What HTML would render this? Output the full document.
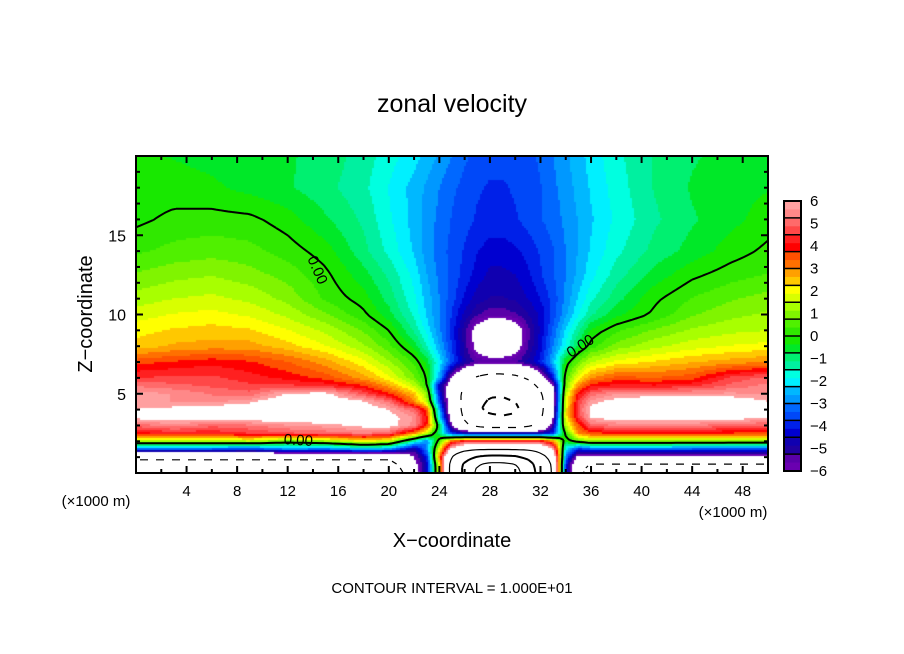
<!DOCTYPE html>
<html><head><meta charset="utf-8">
<style>
html,body{margin:0;padding:0;background:#fff;}
#wrap{position:relative;width:904px;height:654px;overflow:hidden;font-family:"Liberation Sans",sans-serif;}
#field{position:absolute;left:136px;top:156px;}
#ov{position:absolute;left:0;top:0;}
</style></head>
<body>
<div id="wrap">
<canvas id="field" width="632" height="317"></canvas>
<svg id="ov" width="904" height="654">
<g id="contours"></g>
<g id="axes"></g>
<text x="452" y="112" text-anchor="middle" font-size="25" font-family="Liberation Sans, sans-serif">zonal velocity</text>
<text x="452" y="547" text-anchor="middle" font-size="20">X−coordinate</text>
<text transform="translate(92,314) rotate(-90)" text-anchor="middle" font-size="20">Z−coordinate</text>
<text x="96" y="506" text-anchor="middle" font-size="15">(×1000 m)</text>
<text x="733" y="517" text-anchor="middle" font-size="15">(×1000 m)</text>
<text x="452" y="593" text-anchor="middle" font-size="15">CONTOUR INTERVAL = 1.000E+01</text>
<g id="cbar"></g>
<text transform="translate(313,272) rotate(66)" text-anchor="middle" font-size="15">0.00</text>
<text transform="translate(583,350) rotate(-33)" text-anchor="middle" font-size="15">0.00</text>
<text transform="translate(298,445) rotate(4)" text-anchor="middle" font-size="15">0.00</text>
</svg>
</div>
<script>
const xs=[0,3,6,9,12,15,18,20,22,23,24,25,26,27,28,29,30,31,32,33,34,35,36,38,41,44,47,50];
const zs=[0,0.5,1,1.5,2,2.5,3,3.5,4,4.5,5,5.5,6,7,8,9,10,11,12.5,14,16,18,20];
const values=[
[-14,-14,-14,-14,-14,-14,-14,-14,-7,-4.5,2,12,22,32,36,36,33,26,16,9,-4,-8,-13,-13,-13,-13,-13,-13],
[-12,-12,-12,-12,-12,-12,-12,-12,-6.5,-4.5,2,12,22,30,33,33,31,25,15,9,-4,-8,-10.5,-10.5,-10.5,-10.5,-10.5,-10.5],
[-9,-9,-9,-9,-9,-9,-9,-9,-6,-4,3,10,16,21,23,23,22,18,12,8,-3,-6.5,-6.5,-6.5,-6.5,-6.5,-6.5,-6.5],
[-3.5,-3.5,-3.5,-3.8,-3,-3.2,-2.5,-2.8,-5,-3,2,6.5,8,8.5,8.5,8.5,8.5,8.5,8,6,-2,-4,-3.5,-3.5,-3.5,-3.5,-3.5,-3.5],
[1.2,1.2,1.2,1.4,0.5,1,2,1.5,-1.5,-3,0.5,3.5,4.5,4.5,4.5,4.5,4.5,4.5,4.5,3,-0.5,0.5,1,1,1,0.9,0.8,0.8],
[4,4.2,4.2,4.5,4.8,5,5.3,5,3,1.5,-1,-3.8,-4.5,-4.5,-4.5,-4.5,-4.5,-4.5,-4.5,-3.8,0.2,3,3.6,3.8,3.8,3.8,3.7,3.6],
[5,5.5,5,5.2,5.6,5.8,6.2,6.3,5.5,3.8,-0.5,-6,-9,-11,-12,-12,-12,-11,-9,-5,1.5,3.5,5,5.3,5.3,5.3,5,4.8],
[6.2,6.4,6.4,6.5,6.6,6.6,6.6,6.3,5.6,4,-2,-7,-10.5,-16,-18,-19,-18,-15,-10.5,-6,2,4.5,6,6.4,6.5,6.5,6.4,6],
[6,6.2,6.5,6.5,6.8,6.8,6.5,6,5,3.5,-2.5,-7.5,-11,-19,-22,-23,-21.5,-17,-11,-6.5,2,4.8,6.2,6.6,6.8,6.8,6.8,6],
[5.8,5.6,5.5,5.9,6.6,6.6,6.1,5.2,3,1.5,-3.5,-7.5,-11,-18,-21,-21.5,-20,-16,-11,-6.5,1.8,4.5,5.8,6.3,6.6,6.6,6.5,6],
[5.8,5.6,5.2,5,6.1,6.2,4.8,3.8,2.5,1,-4,-7.5,-11,-16,-19,-19,-17,-14,-10.5,-6.5,1.5,4,5,5.6,5.7,5.7,5.7,5.6],
[5.2,5,4.8,4.6,4.6,4.4,3.8,2.8,1.5,0.2,-4.5,-7,-10,-14,-16,-16,-15,-12,-9,-6,0.8,3,4,4.3,4.2,4.4,5,5.4],
[4.5,4.6,4.6,4.3,4,3.6,2.8,2,0.8,0,-2.5,-6.2,-8,-10.5,-11.5,-11.5,-11,-9.5,-7,-4,0.5,2,3,3.5,3.4,3.6,4.6,5],
[3.6,3.8,4,3.8,3.4,2.8,2,1.2,0.3,-0.5,-2,-3.5,-4.8,-5.3,-5.5,-5.5,-5.3,-4.8,-4,-2.5,-0.3,0.8,1.5,2,2.3,2.6,2.8,3],
[2.4,2.7,2.8,2.8,2.4,1.9,1.2,0.5,-0.5,-1.5,-2.6,-3.8,-5,-6.5,-7.2,-7.2,-6.6,-5.3,-4.3,-3,-1.8,-0.6,0.2,0.9,1.4,1.7,1.9,2],
[2.1,2.3,2.4,2.3,1.9,1.4,0.7,0,-1.2,-2,-2.9,-3.9,-5.1,-6.5,-7.5,-7.5,-6.8,-5.4,-4.4,-3.3,-2.2,-1.2,-0.3,0.3,0.8,1.2,1.4,1.5],
[1.7,1.9,2,1.8,1.4,0.8,0.1,-0.6,-1.6,-2.3,-3,-3.8,-4.6,-5.2,-5.5,-5.5,-5.3,-4.9,-4.4,-3.6,-2.7,-1.9,-1.2,-0.5,0.1,0.7,1,1.2],
[1.3,1.5,1.6,1.4,1,0.3,-0.2,-0.9,-1.8,-2.4,-3,-3.6,-4.2,-4.7,-4.9,-4.9,-4.8,-4.5,-4.1,-3.6,-2.9,-2.2,-1.6,-0.9,-0.1,0.4,0.7,0.9],
[0.8,1,1.1,0.9,0.6,0.1,-0.6,-1.2,-2,-2.6,-3.1,-3.5,-3.9,-4.3,-4.6,-4.6,-4.5,-4.2,-3.8,-3.4,-3,-2.5,-2,-1.3,-0.6,-0.1,0.2,0.4],
[0.3,0.5,0.6,0.5,0.2,-0.2,-1,-1.6,-2.3,-2.8,-3.2,-3.5,-3.8,-4.1,-4.3,-4.3,-4.2,-4,-3.7,-3.4,-3,-2.6,-2.2,-1.6,-1,-0.6,-0.2,0.1],
[-0.1,0.1,0.15,0.1,-0.2,-0.7,-1.2,-1.8,-2.4,-2.8,-3.1,-3.4,-3.6,-3.8,-3.9,-3.9,-3.8,-3.6,-3.4,-3.2,-2.9,-2.6,-2.3,-1.8,-1.2,-0.8,-0.5,-0.2],
[-0.2,-0.2,-0.3,-0.5,-0.7,-1,-1.4,-1.9,-2.4,-2.7,-3,-3.3,-3.5,-3.7,-3.8,-3.8,-3.7,-3.6,-3.4,-3.1,-2.8,-2.5,-2.2,-1.7,-1.1,-0.7,-0.5,-0.4],
[-0.3,-0.4,-0.5,-0.6,-0.7,-0.9,-1.3,-1.7,-2.1,-2.4,-2.7,-3,-3.3,-3.5,-3.6,-3.6,-3.6,-3.5,-3.3,-3,-2.7,-2.4,-2.1,-1.6,-1.1,-0.8,-0.6,-0.5]
];
const colors=['#ffa0a0','#ff8888','#ff6a6a','#ff4848','#ff2020','#ff0000','#ff5000','#ff7000','#ffa000','#ffc800','#ffff00','#d8ff00','#a8ff00','#80f400','#50f000','#30e800','#18e800','#00e828','#00f070','#00f0a0','#00ffe0','#00f0ff','#00b8ff','#0098ff','#0068ff','#0048f8','#0020e8','#0000d0','#1000b0','#2000a0','#5a00a8','#6a00b0'];
const cbLabels=['6','5','4','3','2','1','0','−1','−2','−3','−4','−5','−6'];
const xTicks=[4,8,12,16,20,24,28,32,36,40,44,48];
const yTicks=[5,10,15];
const levels=[-20,-10,0,10,20,30];

const PL=136,PT=156,PW=632,PH=317,XMAX=50,ZMAX=20;
function X(x){return PL+x*PW/XMAX;}
function Y(z){return PT+PH-z*PH/ZMAX;}
function seg(a,v){let i=0;while(i<a.length-2&&v>a[i+1])i++;const t=Math.max(0,Math.min(1,(v-a[i])/(a[i+1]-a[i])));return [i,t];}
function val(x,z){const [i,tx]=seg(xs,x),[j,tz]=seg(zs,z);
 const a=values[j][i],b=values[j][i+1],c=values[j+1][i],d=values[j+1][i+1];
 return (a*(1-tx)+b*tx)*(1-tz)+(c*(1-tx)+d*tx)*tz;}
function color(v){if(v>6||v<-6)return '#ffffff';let k=Math.floor((6-v)/12*colors.length);k=Math.max(0,Math.min(colors.length-1,k));return colors[k];}

const ctx=document.getElementById('field').getContext('2d');
for(let py=0;py<PH;py+=2){for(let px=0;px<PW;px+=2){
 const x=(px+1)*XMAX/PW, z=(PH-py-1)*ZMAX/PH;
 ctx.fillStyle=color(val(x,z));ctx.fillRect(px,py,2,2);}}

const NS='http://www.w3.org/2000/svg';
const cg=document.getElementById('contours');
const S=4,nx=Math.floor(PW/S)+1,ny=Math.ceil(PH/S)+1;
const G=[];for(let j=0;j<ny;j++){G.push([]);for(let i=0;i<nx;i++){G[j].push(val(i*S*XMAX/PW,Math.max(0,(PH-j*S)*ZMAX/PH)));}}
levels.forEach(L=>{
 let d='';
 for(let j=0;j<ny-1;j++)for(let i=0;i<nx-1;i++){
  if(L<0&&Math.floor((i+j)/2)%2==1)continue;
  const c=[G[j][i],G[j][i+1],G[j+1][i+1],G[j+1][i]];
  const p=[[i,j],[i+1,j],[i+1,j+1],[i,j+1]];
  const pts=[];
  for(let e=0;e<4;e++){const a=c[e],b=c[(e+1)%4];
   if((a<L)!==(b<L)){const t=(L-a)/(b-a);const p0=p[e],p1=p[(e+1)%4];
    pts.push([PL+(p0[0]+(p1[0]-p0[0])*t)*S,PT+(p0[1]+(p1[1]-p0[1])*t)*S]);}}
  for(let k=0;k+1<pts.length;k+=2)d+='M'+pts[k][0].toFixed(1)+' '+pts[k][1].toFixed(1)+'L'+pts[k+1][0].toFixed(1)+' '+pts[k+1][1].toFixed(1);
 }
 const path=document.createElementNS(NS,'path');
 path.setAttribute('d',d);path.setAttribute('fill','none');path.setAttribute('stroke','#000');
 path.setAttribute('stroke-width',(L===0||Math.abs(L)===20)?2:1.2);
 
 
 cg.appendChild(path);
});
const clip=document.createElementNS(NS,'clipPath');clip.id='pc';
const cr=document.createElementNS(NS,'rect');cr.setAttribute('x',PL);cr.setAttribute('y',PT);cr.setAttribute('width',PW);cr.setAttribute('height',PH);
clip.appendChild(cr);document.getElementById('ov').appendChild(clip);cg.setAttribute('clip-path','url(#pc)');

const ag=document.getElementById('axes');
function add(parent,tag,attrs,name){const e=document.createElementNS(NS,tag);for(const k in attrs)e.setAttribute(k,attrs[k]);
 
 
 parent.appendChild(e);return e;}
add(ag,'rect',{x:PL,y:PT,width:PW,height:PH,fill:'none',stroke:'#000','stroke-width':2},'plot-frame');
for(let x=2;x<XMAX;x+=2){const L=(x%4===0)?7:4;
 add(ag,'line',{x1:X(x),x2:X(x),y1:PT+PH,y2:PT+PH-L,stroke:'#000','stroke-width':2},'x-tick');
 add(ag,'line',{x1:X(x),x2:X(x),y1:PT,y2:PT+L,stroke:'#000','stroke-width':2},'x-tick-top');}
for(let z=1;z<ZMAX;z++){const L=(z%5===0)?7:4;
 add(ag,'line',{x1:PL,x2:PL+L,y1:Y(z),y2:Y(z),stroke:'#000','stroke-width':2},'y-tick');
 add(ag,'line',{x1:PL+PW,x2:PL+PW-L,y1:Y(z),y2:Y(z),stroke:'#000','stroke-width':2},'y-tick-right');}
xTicks.forEach(v=>{const t=add(ag,'text',{x:X(v),y:496,'text-anchor':'middle','font-size':15},'x-tick-label');t.textContent=v;});
yTicks.forEach(v=>{const t=add(ag,'text',{x:PL-10,y:Y(v)+6,'text-anchor':'end','font-size':16},'y-tick-label');t.textContent=v;});

const cb=document.getElementById('cbar');
const CX=784,CT=201,CH=270,CW=17;
const step=CH/colors.length;
colors.forEach((c,k)=>{add(cb,'rect',{x:CX,y:CT+k*step,width:CW,height:step+0.5,fill:c},'colorbar-band');});
for(let k=0;k<=colors.length;k+=2){add(cb,'line',{x1:CX,x2:CX+CW,y1:CT+k*step,y2:CT+k*step,stroke:'#000','stroke-width':1.5},'colorbar-divider');}
add(cb,'rect',{x:CX,y:CT,width:CW,height:CH,fill:'none',stroke:'#000','stroke-width':2},'colorbar-frame');
cbLabels.forEach((s,k)=>{const t=add(cb,'text',{x:810,y:CT+k*CH/(cbLabels.length-1)+5,'font-size':15},'colorbar-label');t.textContent=s;});
</script>
</body></html>
